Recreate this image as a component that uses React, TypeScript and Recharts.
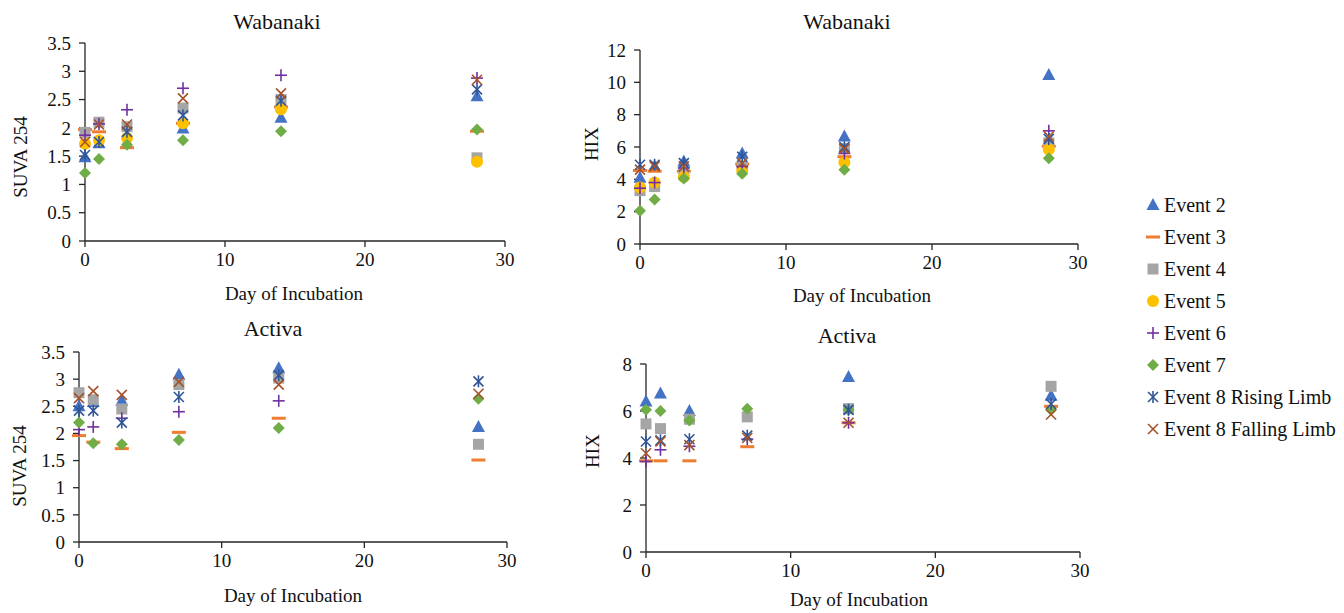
import React from "react";
import { Scatter, ScatterChart, XAxis, YAxis } from "recharts";

const DAYS = [0, 1, 3, 7, 14, 28];
const EVENTS = ["Event 2", "Event 3", "Event 4", "Event 5", "Event 6", "Event 7", "Event 8 Rising Limb", "Event 8 Falling Limb"];
const X_TICKS = [0, 10, 20, 30];
const SUVA_TICKS = [0, 0.5, 1, 1.5, 2, 2.5, 3, 3.5];
const WAB_HIX_TICKS = [0, 2, 4, 6, 8, 10, 12];
const ACT_HIX_TICKS = [0, 2, 4, 6, 8];

type Row = (number | null)[];

// one row per event, values at DAYS
const wabSuva: Row[] = [
  [1.48, 1.73, 1.72, 1.99, 2.18, 2.56],
  [1.97, 1.93, 1.65, 2.08, 2.37, 1.94],
  [1.92, 2.1, 2.02, 2.35, 2.5, 1.47],
  [1.72, 1.78, 1.82, 2.08, 2.33, 1.4],
  [1.87, 2.07, 2.32, 2.7, 2.93, 2.88],
  [1.2, 1.45, 1.7, 1.78, 1.94, 1.97],
  [1.52, 1.75, 1.93, 2.22, 2.48, 2.68],
  [1.75, 2.06, 2.06, 2.52, 2.61, 2.85],
];

const wabHix: Row[] = [
  [4.1, 4.8, 5.1, 5.6, 6.65, 10.45],
  [4.55, 4.5, 4.5, 4.95, 5.4, 6.05],
  [3.3, 3.55, 4.3, 4.8, 5.9, 6.25],
  [3.5, 3.8, 4.15, 4.55, 5.05, 5.85],
  [3.45, 3.8, 4.7, 4.8, 5.6, 7.0],
  [2.05, 2.75, 4.05, 4.35, 4.6, 5.3],
  [4.9, 4.9, 5.0, 5.4, 6.0, 6.5],
  [4.6, 4.8, 4.8, 5.0, 5.9, 6.65],
];

const actSuva: Row[] = [
  [2.5, 2.58, 2.6, 3.08, 3.2, 2.12],
  [1.96, 1.84, 1.72, 2.02, 2.28, 1.51],
  [2.75, 2.62, 2.45, 2.9, 3.02, 1.8],
  [null, null, null, null, null, null],
  [2.07, 2.12, 2.28, 2.4, 2.6, null],
  [2.2, 1.82, 1.8, 1.88, 2.1, 2.64],
  [2.42, 2.42, 2.2, 2.67, 3.07, 2.96],
  [2.65, 2.78, 2.71, 2.95, 2.9, 2.73],
];

const actHix: Row[] = [
  [6.4, 6.75, 6.0, null, 7.45, 6.65],
  [3.88, 3.88, 3.88, 4.48, 5.5, 6.2],
  [5.45, 5.25, 5.65, 5.75, 6.1, 7.05],
  [null, null, null, null, null, null],
  [3.85, 4.35, 4.5, 4.8, 5.5, null],
  [6.05, 6.0, 5.6, 6.1, 6.05, 6.05],
  [4.7, 4.75, 4.8, 4.95, 6.05, 6.3],
  [4.2, 4.7, 4.55, 4.85, 5.5, 5.85],
];

const MARKERS = ["triangle", "dash", "square", "circle", "plus", "diamond", "star", "cross"];
const COLORS = ["#4472C4", "#ED7D31", "#A5A5A5", "#FFC000", "#7030A0", "#70AD47", "#2F5597", "#A5522A"];

const FONT = "Liberation Serif, DejaVu Serif, serif";
const AXIS = "#262626";

function Marker({ kind, color, cx, cy }: { kind: string; color: string; cx: number; cy: number }) {
  if (cx == null || cy == null) return null;
  switch (kind) {
    case "triangle":
      return <polygon points={`${cx},${cy - 7} ${cx - 6.5},${cy + 5} ${cx + 6.5},${cy + 5}`} fill={color} />;
    case "dash":
      return <rect x={cx - 7} y={cy - 1.5} width={14} height={3} fill={color} />;
    case "square":
      return <rect x={cx - 5.5} y={cy - 5.5} width={11} height={11} fill={color} />;
    case "circle":
      return <circle cx={cx} cy={cy} r={6} fill={color} />;
    case "plus":
      return (
        <g stroke={color} strokeWidth={1.6}>
          <line x1={cx - 6} y1={cy} x2={cx + 6} y2={cy} />
          <line x1={cx} y1={cy - 6} x2={cx} y2={cy + 6} />
        </g>
      );
    case "diamond":
      return <polygon points={`${cx},${cy - 6} ${cx + 6},${cy} ${cx},${cy + 6} ${cx - 6},${cy}`} fill={color} />;
    case "star":
      return (
        <g stroke={color} strokeWidth={1.6}>
          <line x1={cx - 5} y1={cy - 5} x2={cx + 5} y2={cy + 5} />
          <line x1={cx - 5} y1={cy + 5} x2={cx + 5} y2={cy - 5} />
          <line x1={cx} y1={cy - 6} x2={cx} y2={cy + 6} />
        </g>
      );
    default:
      return (
        <g stroke={color} strokeWidth={1.6}>
          <line x1={cx - 5} y1={cy - 5} x2={cx + 5} y2={cy + 5} />
          <line x1={cx - 5} y1={cy + 5} x2={cx + 5} y2={cy - 5} />
        </g>
      );
  }
}

function toPoints(row: Row) {
  const pts: { x: number; y: number }[] = [];
  row.forEach((v, i) => {
    if (v != null) pts.push({ x: DAYS[i], y: v });
  });
  return pts;
}

type PanelProps = {
  rows: Row[];
  plot: { x1: number; x2: number; y1: number; y2: number };
  box: { left: number; top: number; w: number; h: number };
  yMax: number;
  yTicks: number[];
  title: string;
  titlePos: [number, number];
  yLabel: string;
  yLabelPos: [number, number];
  xLabelPos: [number, number];
};

const Y_W = 40;
const X_H = 30;

function Panel(p: PanelProps) {
  const margin = {
    left: p.plot.x1 - p.box.left - Y_W,
    right: p.box.left + p.box.w - p.plot.x2,
    top: p.plot.y1 - p.box.top,
    bottom: p.box.top + p.box.h - p.plot.y2 - X_H,
  };
  const tick = { fill: "#111", fontSize: 19, fontFamily: FONT };
  return (
    <>
      <div style={{ position: "absolute", left: p.box.left, top: p.box.top }}>
        <ScatterChart width={p.box.w} height={p.box.h} margin={margin}>
          <XAxis
            type="number"
            dataKey="x"
            domain={[0, 30]}
            ticks={X_TICKS}
            height={X_H}
            tick={tick}
            tickSize={6}
            tickMargin={6}
            stroke={AXIS}
            strokeWidth={1.3}
          />
          <YAxis
            type="number"
            dataKey="y"
            domain={[0, p.yMax]}
            ticks={p.yTicks}
            width={Y_W}
            tick={tick}
            tickSize={6}
            tickMargin={8}
            stroke={AXIS}
            strokeWidth={1.3}
            interval={0}
          />
          {p.rows.map((row, i) => (
            <Scatter
              key={EVENTS[i]}
              name={EVENTS[i]}
              data={toPoints(row)}
              isAnimationActive={false}
              shape={(s: any) => <Marker kind={MARKERS[i]} color={COLORS[i]} cx={s.cx} cy={s.cy} />}
            />
          ))}
        </ScatterChart>
      </div>
      <div style={{ position: "absolute", left: p.titlePos[0] - 100, top: p.titlePos[1] - 14, width: 200, textAlign: "center", fontSize: 22, fontFamily: FONT, color: "#111" }}>
        {p.title}
      </div>
      <div style={{ position: "absolute", left: p.xLabelPos[0] - 100, top: p.xLabelPos[1] - 12, width: 200, textAlign: "center", fontSize: 19, fontFamily: FONT, color: "#111" }}>
        Day of Incubation
      </div>
      <div
        style={{
          position: "absolute",
          left: p.yLabelPos[0] - 60,
          top: p.yLabelPos[1] - 12,
          width: 120,
          textAlign: "center",
          fontSize: 19,
          fontFamily: FONT,
          color: "#111",
          transform: "rotate(-90deg)",
        }}
      >
        {p.yLabel}
      </div>
    </>
  );
}

export default function App() {
  return (
    <div style={{ position: "absolute", left: 0, top: 0, width: 1344, height: 613, background: "#fff", overflow: "hidden" }}>
      <Panel
        rows={wabSuva}
        plot={{ x1: 85, x2: 505, y1: 43, y2: 241 }}
        box={{ left: 0, top: 0, w: 550, h: 310 }}
        yMax={3.5}
        yTicks={SUVA_TICKS}
        title="Wabanaki"
        titlePos={[277, 23]}
        yLabel="SUVA 254"
        yLabelPos={[21, 158]}
        xLabelPos={[294, 295]}
      />
      <Panel
        rows={wabHix}
        plot={{ x1: 640, x2: 1078, y1: 50, y2: 244 }}
        box={{ left: 560, top: 0, w: 550, h: 310 }}
        yMax={12}
        yTicks={WAB_HIX_TICKS}
        title="Wabanaki"
        titlePos={[847, 23]}
        yLabel="HIX"
        yLabelPos={[592, 145]}
        xLabelPos={[862, 297]}
      />
      <Panel
        rows={actSuva}
        plot={{ x1: 79, x2: 507, y1: 352, y2: 542 }}
        box={{ left: 0, top: 310, w: 550, h: 303 }}
        yMax={3.5}
        yTicks={SUVA_TICKS}
        title="Activa"
        titlePos={[273, 330]}
        yLabel="SUVA 254"
        yLabelPos={[20, 467]}
        xLabelPos={[293, 597]}
      />
      <Panel
        rows={actHix}
        plot={{ x1: 646, x2: 1080, y1: 364, y2: 552 }}
        box={{ left: 560, top: 310, w: 550, h: 303 }}
        yMax={8}
        yTicks={ACT_HIX_TICKS}
        title="Activa"
        titlePos={[847, 337]}
        yLabel="HIX"
        yLabelPos={[593, 452]}
        xLabelPos={[859, 601]}
      />
      {EVENTS.map((name, i) => (
        <div key={name} style={{ position: "absolute", left: 1142, top: 205 + 32 * i - 12, height: 24, display: "flex", alignItems: "center" }}>
          <svg width={22} height={24}>
            <Marker kind={MARKERS[i]} color={COLORS[i]} cx={11} cy={12} />
          </svg>
          <span style={{ fontSize: 20, fontFamily: FONT, color: "#111", whiteSpace: "nowrap" }}>{name}</span>
        </div>
      ))}
    </div>
  );
}
